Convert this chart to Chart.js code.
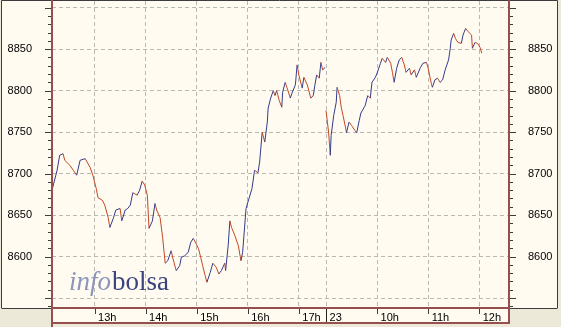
<!DOCTYPE html>
<html>
<head>
<meta charset="utf-8">
<script src="https://cdn.jsdelivr.net/npm/chart.js@4.4.1/dist/chart.umd.min.js"></script>
<style>
html,body{margin:0;padding:0;background:#ece9d8;}
canvas{display:block;}
</style>
</head>
<body>
<canvas id="c" width="561" height="327"></canvas>
<script>
// ---- data ----
const day1Times = ["12:10","12:16","12:19","12:23","12:25","12:31","12:35","12:39","12:43","12:49",
"12:55","12:58","13:02","13:04","13:09","13:12","13:16","13:18","13:22","13:25",
"13:30","13:32","13:36","13:39","13:42","13:45","13:50","13:53","13:56","13:59",
"14:02","14:04","14:08","14:11","14:13","14:17","14:20","14:23","14:26","14:30",
"14:32","14:36","14:40","14:42","14:46","14:50","14:53","14:56","14:59","15:02",
"15:05","15:07","15:10","15:12","15:16","15:19","15:23","15:26","15:29","15:33",
"15:34","15:37","15:39","15:41","15:45","15:49","15:52","15:54","15:58","16:05",
"16:08","16:12","16:14","16:17","16:20","16:23","16:24","16:27","16:30","16:32",
"16:34","16:37","16:40","16:41","16:44","16:46","16:50","16:52","16:56","16:58",
"17:00","17:04","17:06","17:10","17:14","17:17","17:19","17:21","17:24","17:26",
"17:28","17:31"];
const day1Values = [8680,8704,8722,8724,8716,8710,8704,8698,8716,8718,
8707,8698,8682,8671,8668,8662,8647,8635,8646,8656,
8658,8643,8656,8658,8662,8677,8674,8680,8691,8686,
8674,8634,8643,8664,8656,8647,8623,8592,8595,8607,
8598,8583,8589,8599,8601,8605,8617,8622,8616,8610,
8598,8589,8577,8569,8581,8592,8587,8579,8583,8592,
8583,8613,8643,8635,8625,8613,8595,8605,8658,8682,
8704,8701,8714,8750,8738,8762,8779,8791,8800,8794,
8800,8788,8780,8798,8810,8804,8791,8797,8807,8831,
8819,8803,8816,8807,8791,8794,8807,8819,8815,8834,
8825,8828];
const day2Times = ["09:00","09:03","09:05","09:06","09:09","09:12","09:13","09:16","09:18","09:20",
"09:23","09:24","09:27","09:30","09:34","09:36","09:39","09:41","09:46","09:49",
"09:52","09:54","09:58","10:00","10:04","10:06","10:10","10:12","10:16","10:18",
"10:20","10:23","10:26","10:29","10:32","10:34","10:38","10:40","10:44","10:46",
"10:51","10:54","10:58","11:00","11:04","11:05","11:08","11:11","11:14","11:17",
"11:20","11:24","11:26","11:27","11:30","11:32","11:35","11:39","11:41","11:44",
"11:47","11:51","11:52","11:55","11:58","12:01","12:03"];
const day2Values = [8776,8750,8722,8746,8770,8786,8804,8794,8779,8770,
8755,8749,8762,8758,8752,8749,8764,8773,8782,8794,
8791,8810,8816,8821,8833,8839,8834,8840,8833,8822,
8810,8827,8837,8840,8831,8822,8827,8819,8825,8816,
8828,8833,8834,8827,8807,8804,8813,8815,8810,8813,
8825,8837,8851,8861,8869,8863,8858,8857,8867,8875,
8871,8867,8851,8858,8857,8852,8845];
const xTickLabels = ["13h","14h","15h","16h","17h","23","10h","11h","12h"];
const xTickDays   = [1,1,1,1,1,2,2,2,2];
const xTickTimes  = ["13:00","14:00","15:00","16:00","17:00","09:00","10:00","11:00","12:00"];
const yLabelValues = [8600,8650,8700,8750,8800,8850];
const yGridValues  = [8550,8600,8650,8700,8750,8800,8850,8900];
const yMin = 8538, yMax = 8908;
const DAY1_START = "12:10", DAY1_END = "17:32", DAY2_START = "09:00", DAY2_END = "12:35";

// ---- helpers ----
function toMin(t){const p=t.split(':').map(Number);return p[0]*60+p[1];}
const DAY1_SPAN = toMin(DAY1_END)-toMin(DAY1_START);
function pos(day,t){return day===1 ? toMin(t)-toMin(DAY1_START) : DAY1_SPAN + toMin(t)-toMin(DAY2_START);}
const xMax = pos(2,DAY2_END);
const xTickPos = xTickTimes.map((t,i)=>pos(xTickDays[i],t));
const d1 = day1Times.map((t,i)=>({x:pos(1,t),y:day1Values[i]}));
const d2 = day2Times.map((t,i)=>({x:pos(2,t),y:day2Values[i]}));

const UP = 'rgb(52,60,140)', DOWN = 'rgb(195,72,38)';
const CREAM = 'rgb(255,251,240)', GREY = 'rgb(236,233,216)';
const AXIS = 'rgb(150,78,78)', DARK = 'rgb(60,60,60)';
const segColor = ctx => ctx.p1.parsed.y >= ctx.p0.parsed.y ? UP : DOWN;

const decor = {
  id:'decor',
  beforeDraw(chart){
    const c = chart.ctx, a = chart.chartArea;
    c.save();
    c.fillStyle = GREY; c.fillRect(0,0,561,327);
    c.fillStyle = CREAM;
    c.fillRect(2,0,556,a.bottom);
    c.fillRect(a.left,a.bottom,a.right-a.left,16);
    c.restore();
  },
  beforeDatasetsDraw(chart){
    const c = chart.ctx;
    c.save();
    c.textBaseline = 'alphabetic';
    c.font = "italic 27px 'Liberation Serif', serif";
    c.fillStyle = 'rgb(140,148,188)';
    c.fillText('info', 69, 290);
    const w = c.measureText('info').width;
    c.font = "27px 'Liberation Serif', serif";
    c.fillStyle = 'rgb(58,68,128)';
    c.fillText('bolsa', 69 + w + 1, 290);
    c.restore();
  },
  afterDraw(chart){
    const c = chart.ctx, a = chart.chartArea;
    const xs = chart.scales.x, ys = chart.scales.y;
    c.save();
    // outer borders
    c.strokeStyle = DARK; c.lineWidth = 1;
    c.beginPath();
    c.moveTo(1.5, a.bottom); c.lineTo(1.5,0.5); c.lineTo(557.5,0.5); c.lineTo(557.5,a.bottom);
    c.moveTo(1.5, a.bottom+0.5); c.lineTo(a.left, a.bottom+0.5);
    c.moveTo(a.right, a.bottom+0.5); c.lineTo(557.5, a.bottom+0.5);
    c.stroke();
    // axis lines
    c.strokeStyle = AXIS; c.lineWidth = 2;
    c.beginPath();
    c.moveTo(a.left, 0); c.lineTo(a.left, 327);
    c.moveTo(a.right, 0); c.lineTo(a.right, a.bottom+16);
    c.moveTo(a.left, a.bottom); c.lineTo(a.right, a.bottom);
    c.moveTo(a.left, a.bottom+15); c.lineTo(a.right, a.bottom+15);
    c.stroke();
    // y ticks
    c.strokeStyle = DARK; c.lineWidth = 1;
    c.beginPath();
    for(let v=8540; v<=8900; v+=10){
      const y = Math.round(ys.getPixelForValue(v))+0.5;
      const major = v%50===0;
      c.moveTo(a.left-1-(major?6:3), y); c.lineTo(a.left-1, y);
      c.moveTo(a.right+1, y); c.lineTo(a.right+1+(major?6:3), y);
    }
    // x ticks
    xTickPos.forEach((p,i)=>{
      const x = Math.round(xs.getPixelForValue(p))+0.5;
      if(xTickLabels[i]==='23'){ return; }
      c.moveTo(x, a.bottom+1); c.lineTo(x, a.bottom+6);
    });
    c.stroke();
    // day divider
    const dx = Math.round(xs.getPixelForValue(pos(2,DAY2_START)))+0.5;
    c.strokeStyle = 'rgb(40,30,30)';
    c.beginPath(); c.moveTo(dx, a.bottom+1); c.lineTo(dx, a.bottom+14); c.stroke();
    // labels
    c.fillStyle = '#000';
    c.font = "11px 'Liberation Sans', Arial, sans-serif";
    c.textBaseline = 'middle';
    yLabelValues.forEach(v=>{
      const y = ys.getPixelForValue(v);
      c.textAlign = 'right'; c.fillText(String(v), 32, y);
      c.textAlign = 'left'; c.fillText(String(v), 528, y);
    });
    c.textAlign = 'left';
    xTickPos.forEach((p,i)=>{
      const x = xs.getPixelForValue(p);
      c.fillText(xTickLabels[i], x+3.5, a.bottom+10);
    });
    c.restore();
  }
};

new Chart(document.getElementById('c'), {
  type:'line',
  data:{datasets:[
    {data:d1, borderWidth:1, pointRadius:0, tension:0, borderColor:UP, segment:{borderColor:segColor}},
    {data:d2, borderWidth:1, pointRadius:0, tension:0, borderColor:UP, segment:{borderColor:segColor}}
  ]},
  options:{
    responsive:false, devicePixelRatio:1, animation:false,
    layout:{padding:{left:52, right:52, top:1, bottom:19}},
    plugins:{legend:{display:false}, tooltip:{enabled:false}},
    scales:{
      x:{type:'linear', min:0, max:xMax,
         afterBuildTicks(s){ s.ticks = xTickPos.map(v=>({value:v})); },
         ticks:{display:false},
         grid:{color:'rgb(185,185,180)', drawTicks:false, lineWidth:1},
         border:{display:false, dash:[4,3]}},
      y:{type:'linear', min:yMin, max:yMax,
         afterBuildTicks(s){ s.ticks = yGridValues.map(v=>({value:v})); },
         ticks:{display:false},
         grid:{color:'rgb(185,185,180)', drawTicks:false, lineWidth:1},
         border:{display:false, dash:[4,3]}}
    }
  },
  plugins:[decor]
});
</script>
</body>
</html>
